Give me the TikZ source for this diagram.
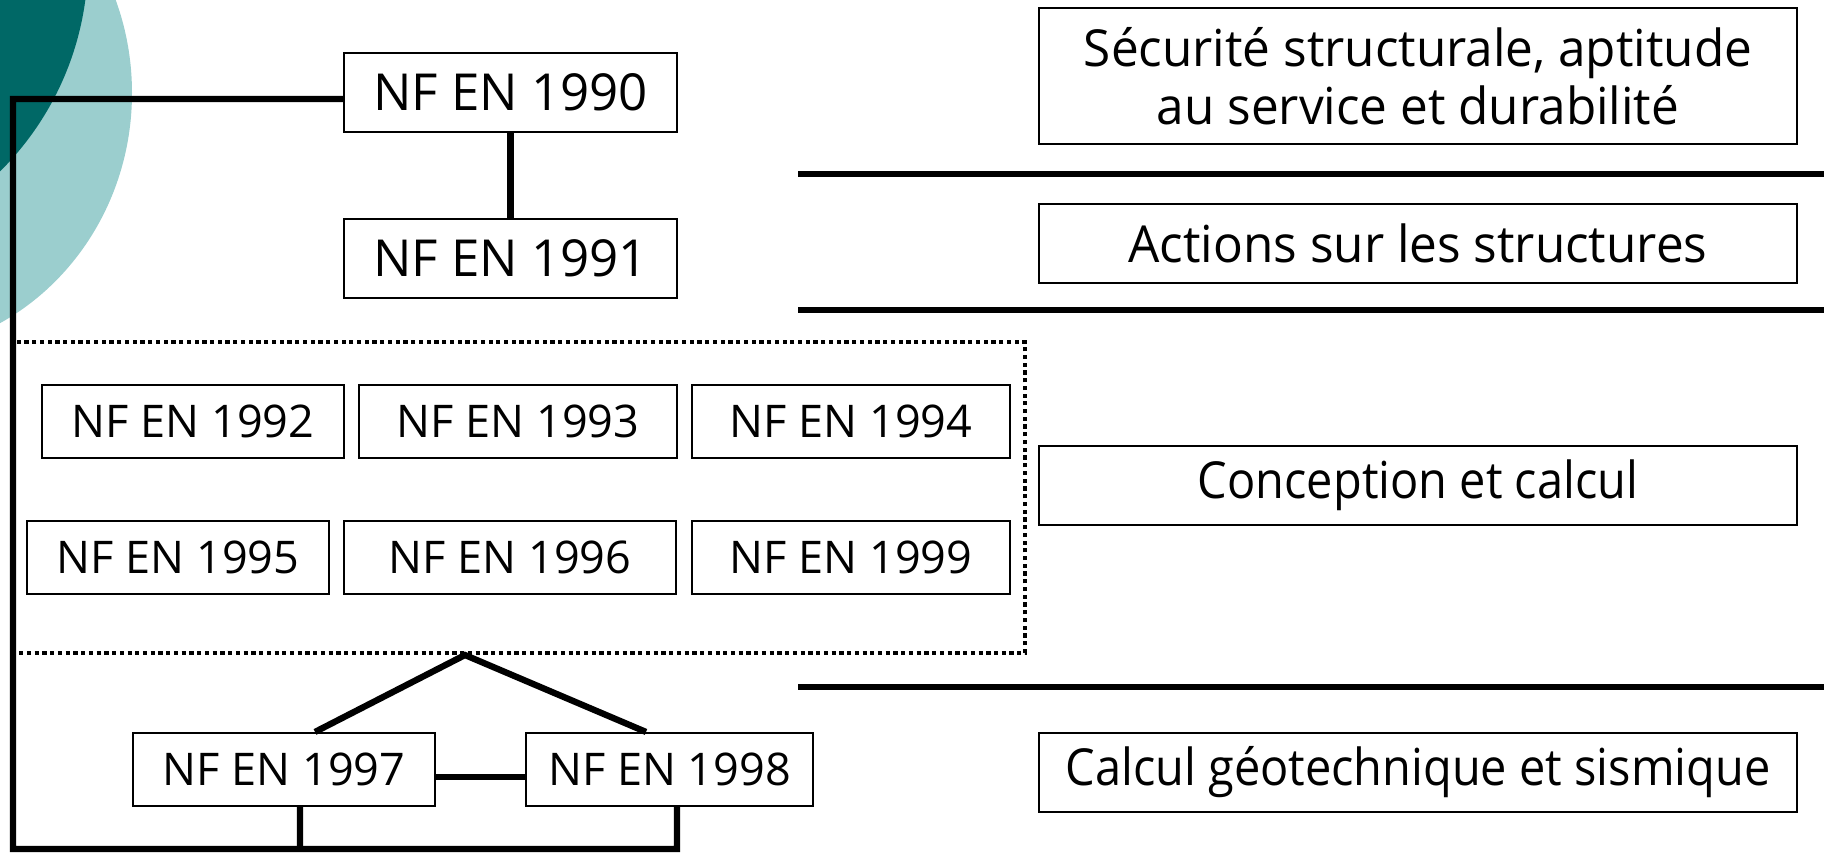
\documentclass[tikz,border=0pt]{standalone}
\usepackage{fontspec}
\setmainfont{Open Sans}
\newfontfamily\rfontA[FakeStretch=0.97]{Open Sans}
\newfontfamily\rfontB[FakeStretch=0.92]{Open Sans}
\definecolor{tealdark}{RGB}{0,104,102}
\definecolor{teallight}{RGB}{155,206,206}
\begin{document}
\begin{tikzpicture}[x=0.01cm,y=-0.01cm,
  box/.style={draw, line width=0.6pt, fill=white, inner sep=0pt,
    font=\fontsize{14.5}{16.5}\selectfont, align=center},
  lbox/.style={box, minimum height=0.73cm, font=\fontsize{12.8}{15}\selectfont},
  rbox/.style={box, minimum width=7.58cm, minimum height=0.79cm},
  conn/.style={line width=1.8pt},
  sep/.style={line width=1.7pt},
  dotbox/.style={line width=1.3pt, dash pattern=on 1.2pt off 1.0pt}]
\useasboundingbox (0,0) rectangle (1824,853);
\begin{scope}
  \clip (0,0) rectangle (1824,853);
  \fill[teallight] (-115,93) ellipse [x radius=247, y radius=260];
  \fill[tealdark] (-210,-40) circle [radius=298];
\end{scope}

% separators
\draw[sep] (798,174) -- (1824,174);
\draw[sep] (798,310) -- (1824,310);
\draw[sep] (798,687) -- (1824,687);

% dotted group
\draw[dotbox] (13,342) rectangle (1025,653);

% left column boxes
\node[box, minimum width=3.33cm, minimum height=0.79cm] (n1990) at (510.5,92.5) {NF EN 1990};
\node[box, minimum width=3.33cm, minimum height=0.79cm] (n1991) at (510.5,258.5) {NF EN 1991};
\node[lbox, minimum width=3.02cm] (n1992) at (193,421.5) {NF EN 1992};
\node[lbox, minimum width=3.17cm] (n1993) at (518,421.5) {NF EN 1993};
\node[lbox, minimum width=3.18cm] (n1994) at (851,421.5) {NF EN 1994};
\node[lbox, minimum width=3.02cm] (n1995) at (178,557.5) {NF EN 1995};
\node[lbox, minimum width=3.32cm] (n1996) at (510,557.5) {NF EN 1996};
\node[lbox, minimum width=3.18cm] (n1999) at (851,557.5) {NF EN 1999};
\node[lbox, minimum width=3.02cm] (n1997) at (284,769.5) {NF EN 1997};
\node[lbox, minimum width=2.87cm] (n1998) at (669.5,769.5) {NF EN 1998};

% right column boxes
\node[rbox, minimum height=1.36cm] (ra) at (1418,76) {\rfontA Sécurité structurale, aptitude\\\rfontA au service et durabilité};
\node[rbox] (rb) at (1418,243.5) {\rfontA Actions sur les structures};
\node[rbox] (rc) at (1418,485.5) {\rfontB Conception et calcul};
\node[rbox] (rd) at (1418,772.5) {\rfontB Calcul géotechnique et sismique};

% connectors
\coordinate (c1) at (13,99);
\coordinate (cbl) at (13,849);
\coordinate (cbr) at (677,849);
\coordinate (cb97) at (300,849);
\coordinate (apex) at (465,655);
\draw[conn] ([yshift=-0.065cm]n1990.west) -- (c1) -- (cbl) -- (cbr) -- ([xshift=0.075cm]n1998.south);
\draw[conn] (cb97) -- ([xshift=0.16cm]n1997.south);
\draw[conn] (n1990) -- (n1991);
\draw[conn] ([xshift=0.31cm]n1997.north) -- (apex) -- ([xshift=-0.235cm]n1998.north);
\draw[conn] ([yshift=-0.075cm]n1997.east) -- ([yshift=-0.075cm]n1998.west);
\end{tikzpicture}
\end{document}
